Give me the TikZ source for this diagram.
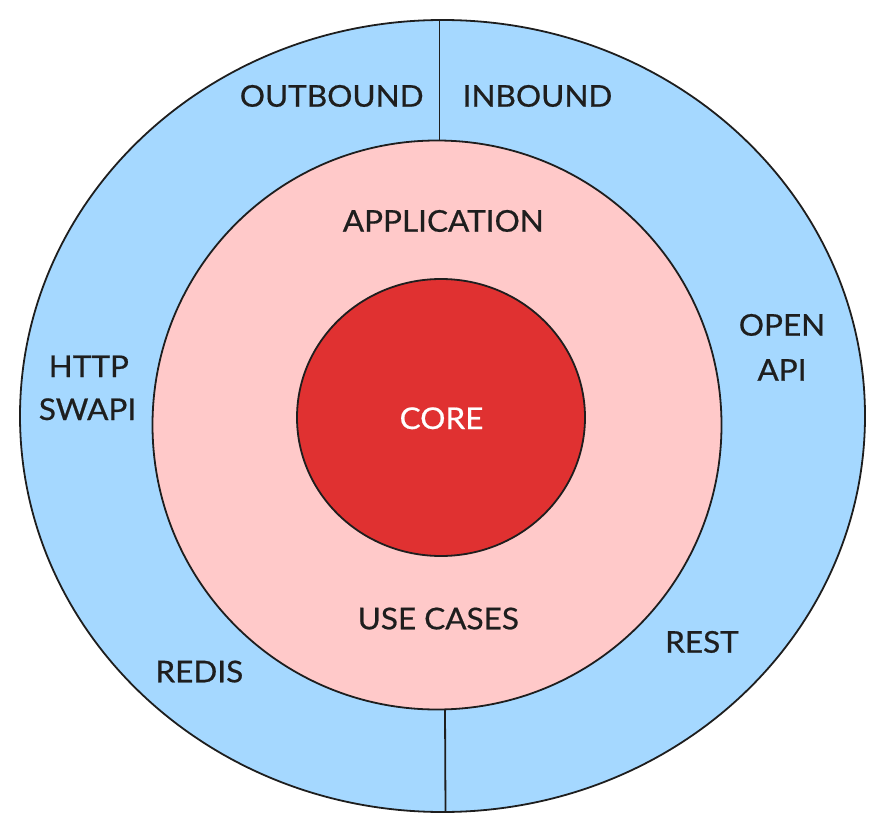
\documentclass[tikz,border=0pt]{standalone}
\usepackage{fontspec}
\setmainfont{Lato}[FakeStretch=1.05,FakeBold=0.6]
\definecolor{ringblue}{HTML}{A5D8FF}
\definecolor{ringpink}{HTML}{FFC9C9}
\definecolor{corered}{HTML}{E03131}
\definecolor{ink}{HTML}{1E1E1E}
\begin{document}
\begin{tikzpicture}[x=1pt,y=-1pt,
  ring/.style={draw=ink,line width=1.8pt},
  lbl/.style={anchor=base,inner sep=0pt,text=ink,font=\fontsize{30}{36}\selectfont},
  divider/.style={draw=ink,line width=1.8pt}]
\useasboundingbox (0,0) rectangle (884,832);
% outer ring
\filldraw[ring,fill=ringblue] (442.5,416) ellipse [x radius=422.5,y radius=396];
\coordinate (topouter) at (439.5,20);
\coordinate (topmid) at (439.5,141);
\coordinate (botmid) at (445,709);
\coordinate (botouter) at (445.5,812);
\draw[divider] (topouter) -- (topmid);
\draw[divider] (botmid) -- (botouter);
% middle ring
\filldraw[ring,fill=ringpink] (437,425) ellipse [x radius=284.5,y radius=284.5];
% core
\filldraw[ring,fill=corered] (441,417.5) ellipse [x radius=144,y radius=138.5];
% labels
\node[lbl] (outbound) at (331.7,106.7) {OUTBOUND};
\node[lbl] (inbound) at (537.5,106.7) {INBOUND};
\node[lbl] (application) at (443.3,231.7) {APPLICATION};
\node[lbl] (open) at (782,335.7) {OPEN};
\node[lbl] (api) at (782,380.7) {API};
\node[lbl] (http) at (88.8,377) {HTTP};
\node[lbl] (swapi) at (87.5,420) {SWAPI};
\node[lbl,text=white] (core) at (441.5,429) {CORE};
\node[lbl] (usecases) at (438.3,629.3) {USE CASES};
\node[lbl] (rest) at (702,652.7) {REST};
\node[lbl] (redis) at (199.3,682.3) {REDIS};
\end{tikzpicture}
\end{document}
